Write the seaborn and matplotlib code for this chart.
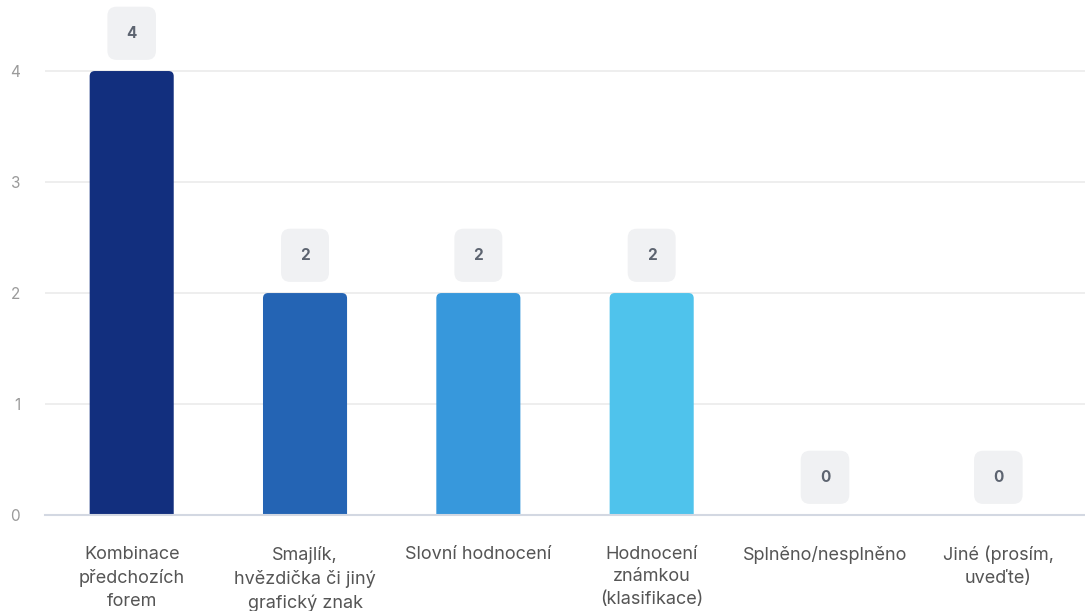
import matplotlib
matplotlib.use("Agg")
import matplotlib.pyplot as plt
from matplotlib.patches import FancyBboxPatch
import seaborn as sns
import pandas as pd

# data
categories = [
    "Kombinace\npředchozích\nforem",
    "Smajlík,\nhvězdička či jiný\ngrafický znak",
    "Slovní hodnocení",
    "Hodnocení\nznámkou\n(klasifikace)",
    "Splněno/nesplněno",
    "Jiné (prosím,\nuveďte)",
]
counts = [4, 2, 2, 2, 0, 0]
bar_colors = ["#122F7E", "#2464B4", "#3798DC", "#4FC3EC", "#7FD6F2", "#A9E3F5"]

df = pd.DataFrame({"kategorie": categories, "pocet": counts})

sns.set_theme(style="white")
plt.rcParams["font.family"] = ["Inter", "DejaVu Sans"]

fig = plt.figure(figsize=(10.85, 6.11), dpi=100)
ax = fig.add_axes([0.0415, 0.157, 0.9585, 0.8176])

sns.barplot(data=df, x="kategorie", y="pocet", hue="kategorie",
            palette=bar_colors, width=0.485, saturation=1, legend=False, ax=ax)

ax.set_ylim(0, 4.5)
ax.set_xlim(-0.5, len(categories) - 0.5)

# swap the square bars for ones with slightly rounded tops
rad = 0.03
for p in list(ax.patches):
    h = p.get_height()
    if h <= 0:
        continue
    rb = FancyBboxPatch((p.get_x(), -0.1), p.get_width(), h + 0.1,
                        boxstyle=f"round,pad=0,rounding_size={rad}",
                        mutation_aspect=1.56, facecolor=p.get_facecolor(),
                        edgecolor="none", zorder=p.get_zorder())
    p.set_visible(False)
    ax.add_patch(rb)

ax.set_yticks([0, 1, 2, 3, 4])
ax.yaxis.grid(True, color="#ebebeb", linewidth=1.2)
ax.set_axisbelow(True)
for s in ["top", "right", "left"]:
    ax.spines[s].set_visible(False)
ax.spines["bottom"].set_color("#d3d8e2")
ax.spines["bottom"].set_linewidth(1.5)
ax.spines["bottom"].set_zorder(5)

ax.tick_params(axis="y", length=0, pad=18, labelsize=11, labelcolor="#9a9a9a")
ax.tick_params(axis="x", length=0, pad=22, labelsize=13, labelcolor="#555555")
ax.set_xlabel("")
ax.set_ylabel("")
ax.set_xticks(range(len(categories)))
ax.set_xticklabels(categories, linespacing=1.45)

# value labels in grey rounded boxes
for i, v in enumerate(counts):
    ax.text(i, v + 0.34, str(v), ha="center", va="center", fontsize=11,
            fontweight="bold", color="#5d6470",
            bbox=dict(boxstyle="round,pad=1.25,rounding_size=0.6",
                      facecolor="#f0f1f3", edgecolor="none"))

fig.savefig("out.png", dpi=100)
